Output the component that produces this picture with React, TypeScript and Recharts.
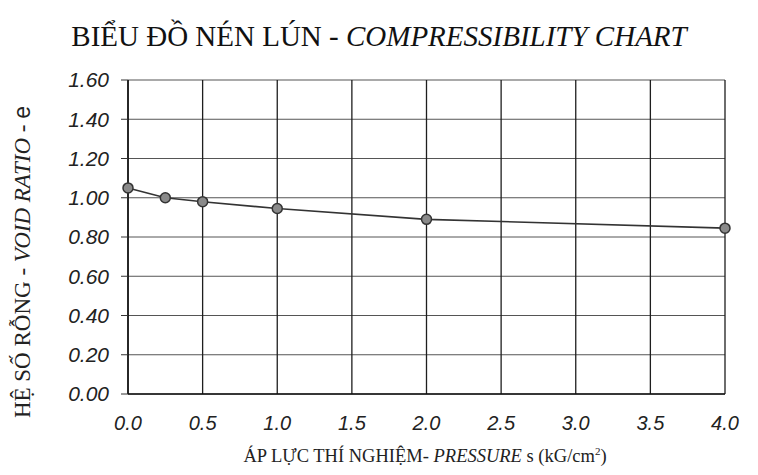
import { LineChart, Line, XAxis, YAxis, CartesianGrid } from "recharts";

// áp lực (kG/cm²) và hệ số rỗng e đọc từ hình
const pressure = [0, 0.25, 0.5, 1, 2, 4];
const voidRatio = [1.05, 1.0, 0.98, 0.945, 0.89, 0.845];
const xTicks = [0, 0.5, 1, 1.5, 2, 2.5, 3, 3.5, 4];
const yTicks = [0, 0.2, 0.4, 0.6, 0.8, 1.0, 1.2, 1.4, 1.6];

const data = pressure.map((p, i) => ({ p, e: voidRatio[i] }));

const serif = "'Liberation Serif', 'DejaVu Serif', serif";
const sans = "'Liberation Sans', Arial, sans-serif";

export default function App() {
  return (
    <div
      style={{
        position: "absolute",
        left: 0,
        top: 0,
        width: 758,
        height: 475,
        background: "#fff",
        overflow: "hidden",
      }}
    >
      <div
        style={{
          position: "absolute",
          left: 0,
          width: 758,
          top: 20,
          textAlign: "center",
          fontFamily: serif,
          fontSize: 29,
          color: "#111",
        }}
      >
        BIỂU ĐỒ NÉN LÚN - <i>COMPRESSIBILITY CHART</i>
      </div>

      <div
        style={{
          position: "absolute",
          left: 22,
          top: 262,
          transform: "translate(-50%, -50%) rotate(-90deg)",
          whiteSpace: "nowrap",
          fontFamily: serif,
          fontSize: 23,
          color: "#222",
        }}
      >
        HỆ SỐ RỖNG - <i>VOID RATIO</i> - <span style={{ fontFamily: sans }}>e</span>
      </div>

      <div
        style={{
          position: "absolute",
          left: 0,
          width: 850,
          top: 445,
          textAlign: "center",
          fontFamily: serif,
          fontSize: 18.5,
          color: "#222",
        }}
      >
        ÁP LỰC THÍ NGHIỆM- <i>PRESSURE</i> s (kG/cm<sup style={{ fontSize: 11 }}>2</sup>)
      </div>

      <LineChart
        width={758}
        height={475}
        data={data}
        margin={{ top: 80, right: 33, bottom: 31, left: 0 }}
        style={{ position: "absolute", left: 0, top: 0 }}
      >
        <CartesianGrid
          stroke="#555"
          strokeWidth={1}
          vertical={false}
          horizontalValues={yTicks}
        />
        <CartesianGrid
          stroke="#1e1e1e"
          strokeWidth={1.3}
          horizontal={false}
          verticalValues={xTicks}
        />
        <XAxis
          dataKey="p"
          type="number"
          domain={[0, 4]}
          ticks={xTicks}
          height={50}
          tickFormatter={(v: number) => v.toFixed(1)}
          tickSize={0}
          tickMargin={22}
          axisLine={{ stroke: "#111", strokeWidth: 1.5 }}
          tick={{ fill: "#222", fontSize: 20, fontStyle: "italic", fontFamily: sans }}
        />
        <YAxis
          type="number"
          domain={[0, 1.6]}
          ticks={yTicks}
          width={128}
          tickFormatter={(v: number) => v.toFixed(2)}
          tickSize={7}
          tickMargin={12}
          tickLine={{ stroke: "#333" }}
          axisLine={{ stroke: "#111", strokeWidth: 1.5 }}
          tick={{ fill: "#222", fontSize: 21, fontStyle: "italic", fontFamily: sans }}
        />
        <YAxis
          yAxisId="r"
          orientation="right"
          domain={[0, 1.6]}
          width={0}
          tick={false}
          tickLine={false}
          axisLine={{ stroke: "#111", strokeWidth: 1.5 }}
        />
        <XAxis
          xAxisId="t"
          orientation="top"
          type="number"
          domain={[0, 4]}
          height={0}
          tick={false}
          tickLine={false}
          axisLine={{ stroke: "#111", strokeWidth: 1.5 }}
        />
        <Line
          dataKey="e"
          type="linear"
          stroke="#333"
          strokeWidth={1.6}
          dot={{ r: 5, fill: "#8a8a8a", stroke: "#333", strokeWidth: 1.5 }}
          isAnimationActive={false}
        />
      </LineChart>
    </div>
  );
}
